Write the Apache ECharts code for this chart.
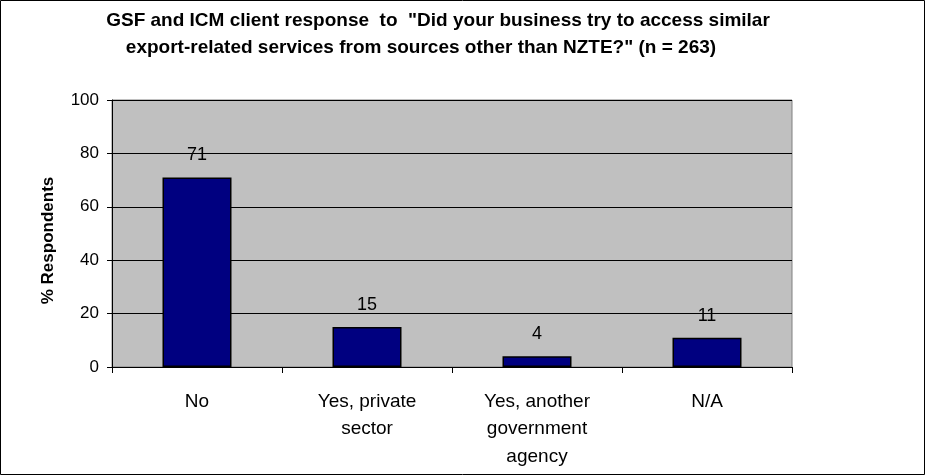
<!DOCTYPE html>
<html>
<head>
<meta charset="utf-8">
<script src="https://cdn.jsdelivr.net/npm/echarts@6/dist/echarts.min.js"></script>
<style>
  html, body { margin: 0; padding: 0; background: #ffffff; }
  #chart { width: 925px; height: 475px; }
</style>
</head>
<body>
<div id="chart"></div>
<script>
// Survey answers and share of respondents (%)
const categories = ['No', 'Yes, private\nsector', 'Yes, another\ngovernment\nagency', 'N/A'];
const percentValues = [71, 15, 4, 11];
const yTicks = { min: 0, max: 100, step: 20 };

const titleLines = [
  'GSF and ICM client response  to  "Did your business try to access similar',
  'export-related services from sources other than NZTE?" (n = 263)'
];
const yAxisTitle = '% Respondents';

const FONT = '"Liberation Sans", Arial, sans-serif';

const titleStyle = {
  fontFamily: FONT,
  fontSize: 19,
  fontWeight: 'bold',
  color: '#000000',
  lineHeight: 27
};

const chart = echarts.init(document.getElementById('chart'), null, { renderer: 'canvas' });

chart.setOption({
  animation: false,
  backgroundColor: '#ffffff',
  title: [
    { text: titleLines[0], left: 438, top: 7, textAlign: 'center', padding: 0, textStyle: titleStyle },
    { text: titleLines[1], left: 421, top: 34, textAlign: 'center', padding: 0, textStyle: titleStyle }
  ],
  graphic: [{
    type: 'rect',
    shape: { x: 0.5, y: 0.5, width: 924, height: 474 },
    style: { fill: 'none', stroke: '#000000', lineWidth: 1 },
    silent: true
  }],
  grid: {
    left: 112,
    right: 133,
    top: 100,
    bottom: 108,
    show: true,
    backgroundColor: '#c0c0c0',
    borderColor: '#808080',
    borderWidth: 1
  },
  xAxis: {
    type: 'category',
    data: categories,
    axisLine: { show: true, lineStyle: { color: '#000000', width: 1 } },
    axisTick: { show: true, alignWithLabel: false, length: 6, lineStyle: { color: '#000000' } },
    axisLabel: {
      interval: 0,
      margin: 21,
      fontFamily: FONT,
      fontSize: 19,
      lineHeight: 27.5,
      color: '#000000'
    }
  },
  yAxis: {
    type: 'value',
    min: yTicks.min,
    max: yTicks.max,
    interval: yTicks.step,
    name: yAxisTitle,
    nameLocation: 'middle',
    nameRotate: 90,
    nameGap: 55,
    nameTextStyle: {
      fontFamily: FONT,
      fontSize: 17,
      fontWeight: 'bold',
      color: '#000000',
      padding: [0, 14, 0, 0]
    },
    axisLine: { show: true, lineStyle: { color: '#000000', width: 1 } },
    axisTick: { show: true, length: 5, lineStyle: { color: '#000000' } },
    axisLabel: {
      margin: 13,
      fontFamily: FONT,
      fontSize: 17,
      color: '#000000'
    },
    splitLine: { show: true, lineStyle: { color: '#000000', width: 1 } }
  },
  series: [{
    type: 'bar',
    data: percentValues,
    barWidth: 69,
    itemStyle: {
      color: '#000080',
      borderColor: '#000000',
      borderWidth: 1.5
    },
    label: {
      show: true,
      position: 'top',
      distance: 13,
      fontFamily: FONT,
      fontSize: 18,
      color: '#000000'
    }
  }]
});
</script>
</body>
</html>
